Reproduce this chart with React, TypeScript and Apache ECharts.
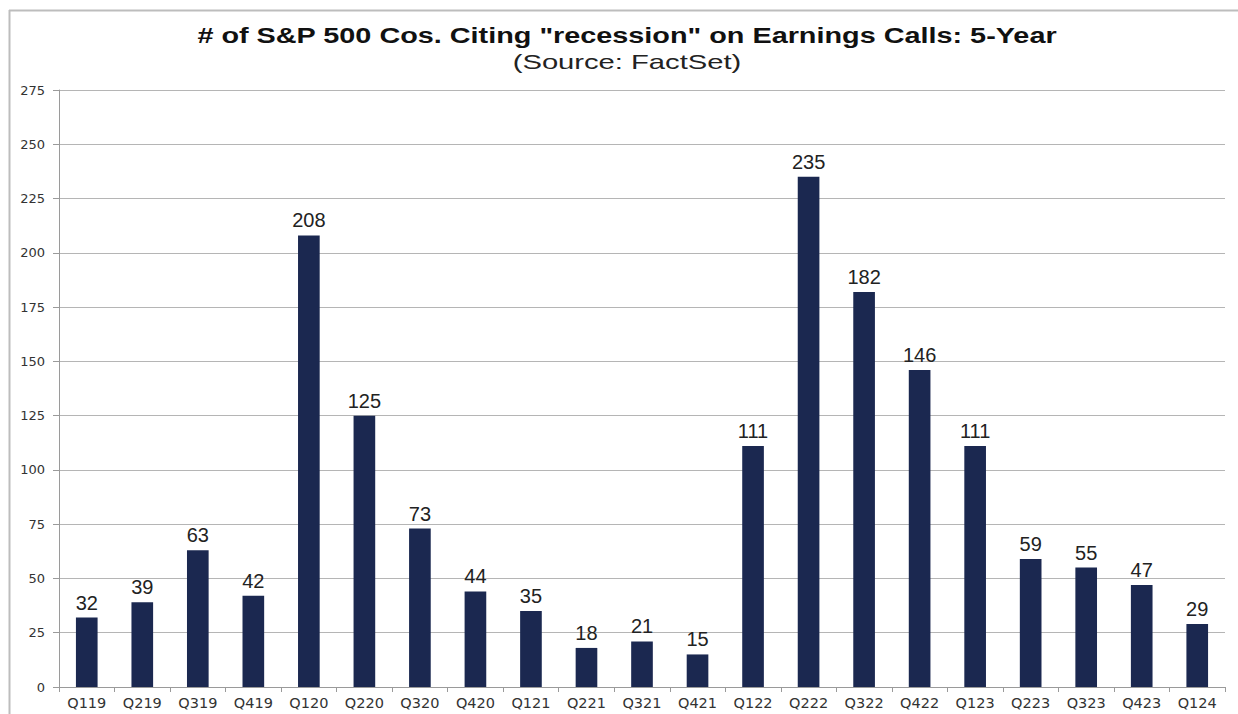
import React, { useEffect, useRef } from "react";
import * as echarts from "echarts";

const categories = ["Q119","Q219","Q319","Q419","Q120","Q220","Q320","Q420","Q121","Q221","Q321","Q421","Q122","Q222","Q322","Q422","Q123","Q223","Q323","Q423","Q124"];
const counts = [32,39,63,42,208,125,73,44,35,18,21,15,111,235,182,146,111,59,55,47,29];
const titleText = '# of S&P 500 Cos. Citing "recession" on Earnings Calls: 5-Year';
const subtitleText = "(Source: FactSet)";

export default function App() {
  const ref = useRef<HTMLDivElement>(null);
  useEffect(() => {
    const chart = echarts.init(ref.current!, null, { renderer: "svg" });
    chart.setOption({
      animation: false,
      backgroundColor: "#ffffff",
      graphic: [
        { type: "line", shape: { x1: 9, y1: 10.5, x2: 1238, y2: 10.5 }, style: { stroke: "#bdbdbd", lineWidth: 2 } },
        { type: "line", shape: { x1: 9.5, y1: 10, x2: 9.5, y2: 714 }, style: { stroke: "#bdbdbd", lineWidth: 2 } },
        {
          type: "text",
          x: 627,
          y: 35,
          scaleX: 1.31,
          style: {
            text: titleText,
            fontFamily: "Liberation Sans, Arial",
            fontWeight: "bold",
            fontSize: 22,
            fill: "#111",
            align: "center",
            verticalAlign: "middle",
          },
        },
        {
          type: "text",
          x: 627,
          y: 62,
          scaleX: 1.39,
          style: {
            text: subtitleText,
            fontFamily: "Liberation Sans, Arial",
            fontSize: 21,
            fill: "#222",
            align: "center",
            verticalAlign: "middle",
          },
        },
      ],
      grid: { left: 59, right: 13, top: 90, bottom: 27, containLabel: false },
      xAxis: {
        type: "category",
        data: categories,
        axisLine: { show: true, lineStyle: { color: "#9a9a9a", width: 1 } },
        axisTick: { show: true, alignWithLabel: false, length: 5, lineStyle: { color: "#9a9a9a" } },
        axisLabel: { fontFamily: "DejaVu Sans", fontSize: 14.5, color: "#333", margin: 8, interval: 0 },
      },
      yAxis: {
        type: "value",
        min: 0,
        max: 275,
        interval: 25,
        axisLine: { show: true, lineStyle: { color: "#9a9a9a", width: 1 } },
        axisTick: { show: true, length: 6, lineStyle: { color: "#9a9a9a" } },
        axisLabel: { fontFamily: "DejaVu Sans", fontSize: 13, color: "#333", margin: 14 },
        splitLine: { show: true, lineStyle: { color: "#b5b5b5", width: 1 } },
      },
      series: [
        {
          type: "bar",
          data: counts,
          barWidth: "39%",
          itemStyle: { color: "#1b2850" },
          label: {
            show: true,
            position: "top",
            distance: 5,
            fontFamily: "Liberation Sans, Arial",
            fontSize: 20,
            color: "#222",
          },
        },
      ],
    });
    return () => chart.dispose();
  }, []);
  return <div ref={ref} style={{ position: "fixed", left: 0, top: 0, width: 1238, height: 714 }} />;
}
